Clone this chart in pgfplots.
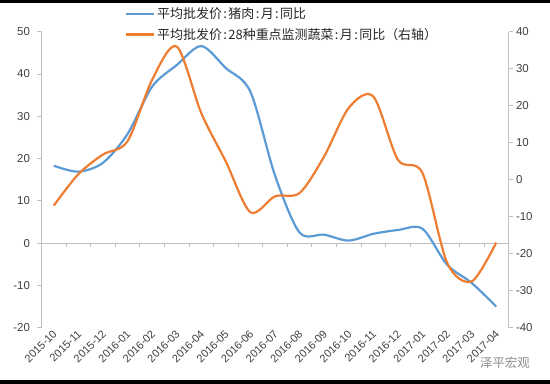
\documentclass[border=0pt]{standalone}
\usepackage{pgfplots}
\pgfplotsset{compat=1.18}
\usepackage{fontspec}
\setmainfont{Liberation Sans}
\newfontfamily\cjk{Noto Sans CJK SC}
\newcommand{\cc}{\makebox[0.5em]{:}}
\definecolor{cblue}{HTML}{5B9BD5}
\definecolor{corange}{HTML}{ED7D31}
\definecolor{axgray}{HTML}{BFBFBF}
\definecolor{txt}{HTML}{404040}
\begin{document}
\begin{tikzpicture}
\path[use as bounding box] (-41.5bp,-56bp) rectangle (508.5bp,327.7bp);
\fill[black] (-41.5bp,324.5bp) rectangle (508.5bp,327.7bp);
\fill[black] (-41.5bp,-56bp) rectangle (508.5bp,-52bp);
\begin{axis}[
  name=ax,
  scale only axis, width=467bp, height=296bp,
  xmin=-0.5, xmax=18.5, ymin=-20, ymax=50,
  ytick={-20,-10,...,50},
  axis y line*=left, axis x line*=bottom,
  x axis line style={draw=none},
  y axis line style={draw=axgray, line width=0.8bp, -},
  ytick style={draw=axgray, line width=0.8bp},
  xtick={0,...,18},
  xtick style={draw=none},
  xticklabels={2015-10,2015-11,2015-12,2016-01,2016-02,2016-03,2016-04,2016-05,2016-06,2016-07,2016-08,2016-09,2016-10,2016-11,2016-12,2017-01,2017-02,2017-03,2017-04},
  x tick label style={rotate=45, anchor=east, font=\fontsize{11}{12}\selectfont, text=txt, xshift=4bp, yshift=-1bp},
  y tick label style={font=\fontsize{11.5}{13}\selectfont, text=txt, xshift=-4bp},
  /pgf/number format/assume math mode=true,
  tick align=outside, major tick length=4bp,
  legend style={draw=none, fill=none, at={(rel axis cs:0.172,1.095)}, anchor=north west,
    font=\cjk\fontsize{13}{15}\selectfont, text=black!85, row sep=4bp,
    /tikz/every even column/.append style={column sep=2bp}},
  legend cell align=left,
  legend image code/.code={\draw[#1, line width=2.2bp] (0bp,0bp) -- (28bp,0bp);},
  clip=false,
]
\draw[axgray, line width=0.8bp] (axis cs:-0.5,0) -- (axis cs:18.5,0);
\pgfplotsinvokeforeach{0,...,19}{\draw[axgray, line width=0.8bp] (axis cs:#1-0.5,0) -- ([yshift=-4bp]axis cs:#1-0.5,0);}
\addplot[cblue, line width=2.2bp, smooth] coordinates {
(0,18.3) (1,16.9) (2,19) (3,25.8) (4,37) (5,42.1) (6,46.6) (7,41.4) (8,35.8) (9,16) (10,2.5) (11,2.0) (12,0.6) (13,2.2) (14,3.1) (15,3.4) (16,-5.1) (17,-9.4) (18,-15)};
\addlegendentry{平均批发价\cc 猪肉\cc 月\cc 同比}
\addlegendimage{corange}
\addlegendentry{平均批发价\cc 28种重点监测蔬菜\cc 月\cc 同比（右轴）}
\node[anchor=west, text=black!45, font=\cjk\fontsize{12.5}{14}\selectfont] at (axis cs:17.2,-20) [yshift=-35bp] {泽平宏观};
\end{axis}
\begin{axis}[
  scale only axis, width=467bp, height=296bp,
  xmin=-0.5, xmax=18.5, ymin=-40, ymax=40,
  ytick={-40,-30,...,40},
  axis y line*=right, axis x line=none,
  y axis line style={draw=axgray, line width=0.8bp, -},
  ytick style={draw=axgray, line width=0.8bp},
  y tick label style={font=\fontsize{11.5}{13}\selectfont, text=txt},
  /pgf/number format/assume math mode=true,
  tick align=outside, major tick length=4bp,
  clip=false,
]
\addplot[corange, line width=2.2bp, smooth] coordinates {
(0,-7) (1,1.5) (2,6.8) (3,10.4) (4,27) (5,36) (6,18) (7,4.9) (8,-8.8) (9,-4.5) (10,-3.6) (11,6.3) (12,19.4) (13,22.5) (14,5.4) (15,1.8) (16,-22.4) (17,-27.5) (18,-17)};
\end{axis}
\end{tikzpicture}
\end{document}
